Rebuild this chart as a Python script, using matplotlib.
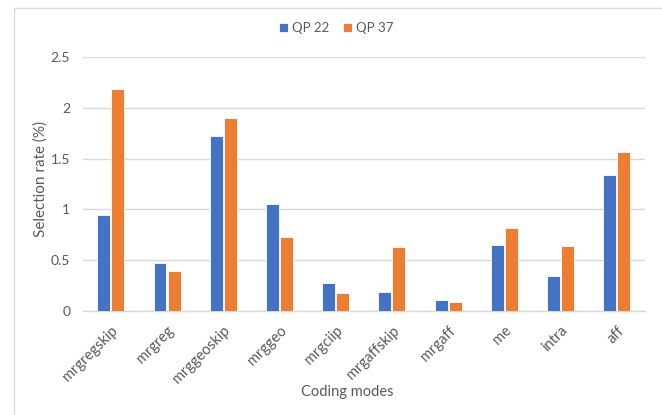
import numpy as np
import matplotlib.pyplot as plt
from matplotlib.patches import Rectangle

modes = ['mrgregskip', 'mrgreg', 'mrggeoskip', 'mrggeo', 'mrgciip',
         'mrgaffskip', 'mrgaff', 'me', 'intra', 'aff']
qp22 = [0.94, 0.47, 1.72, 1.05, 0.28, 0.19, 0.11, 0.65, 0.34, 1.34]
qp37 = [2.18, 0.39, 1.90, 0.73, 0.18, 0.63, 0.09, 0.82, 0.64, 1.56]
yticks = [0, 0.5, 1, 1.5, 2, 2.5]
ytick_labels = ['0', '0.5', '1', '1.5', '2', '2.5']

plt.rcParams['font.family'] = ['Lato', 'DejaVu Sans']
text_color = '#595959'
grid_color = '#D9D9D9'

fig = plt.figure(figsize=(6.62, 4.15), dpi=100)
ax = fig.add_axes([0.125, 0.2506, 0.849, 0.6124])

# outer chart border
fig.patches.append(Rectangle((0.021, -0.01), 1.0, 0.99, transform=fig.transFigure,
                             fill=False, edgecolor=grid_color, linewidth=1.0))

x = np.arange(len(modes))
w = 0.23
ax.bar(x - 0.125, qp22, w, color='#4472C4', edgecolor='white', linewidth=0.6,
       label='QP 22', zorder=3)
ax.bar(x + 0.125, qp37, w, color='#ED7D31', edgecolor='white', linewidth=0.6,
       label='QP 37', zorder=3)

ax.set_xlim(-0.5, len(modes) - 0.5)
ax.set_ylim(0, 2.5)
ax.set_yticks(yticks)
ax.set_yticklabels(ytick_labels)
ax.grid(axis='y', color=grid_color, linewidth=1.0, zorder=0)

ax.set_xticks(x)
ax.set_xticklabels(modes, rotation=45, ha='right', rotation_mode='anchor')
ax.tick_params(axis='both', length=0, labelsize=10, colors=text_color)
ax.tick_params(axis='x', labelsize=10.5, pad=9)
ax.tick_params(axis='y', pad=9)

for s in ['top', 'right', 'left']:
    ax.spines[s].set_visible(False)
ax.spines['bottom'].set_color(grid_color)
ax.spines['bottom'].set_linewidth(1.0)

ax.set_ylabel('Selection rate (%)', fontsize=11, color=text_color)
ax.yaxis.set_label_coords(-0.062, 0.52)
ax.set_xlabel('Coding modes', fontsize=10.5, color=text_color)
ax.xaxis.set_label_coords(0.47, -0.29)

fig.legend(loc='center', bbox_to_anchor=(0.508, 0.933), ncol=2, frameon=False,
           fontsize=9.5, labelcolor=text_color, handlelength=0.7, handleheight=0.7,
           handletextpad=0.3, columnspacing=1.0)

fig.savefig('out.png', dpi=100)
